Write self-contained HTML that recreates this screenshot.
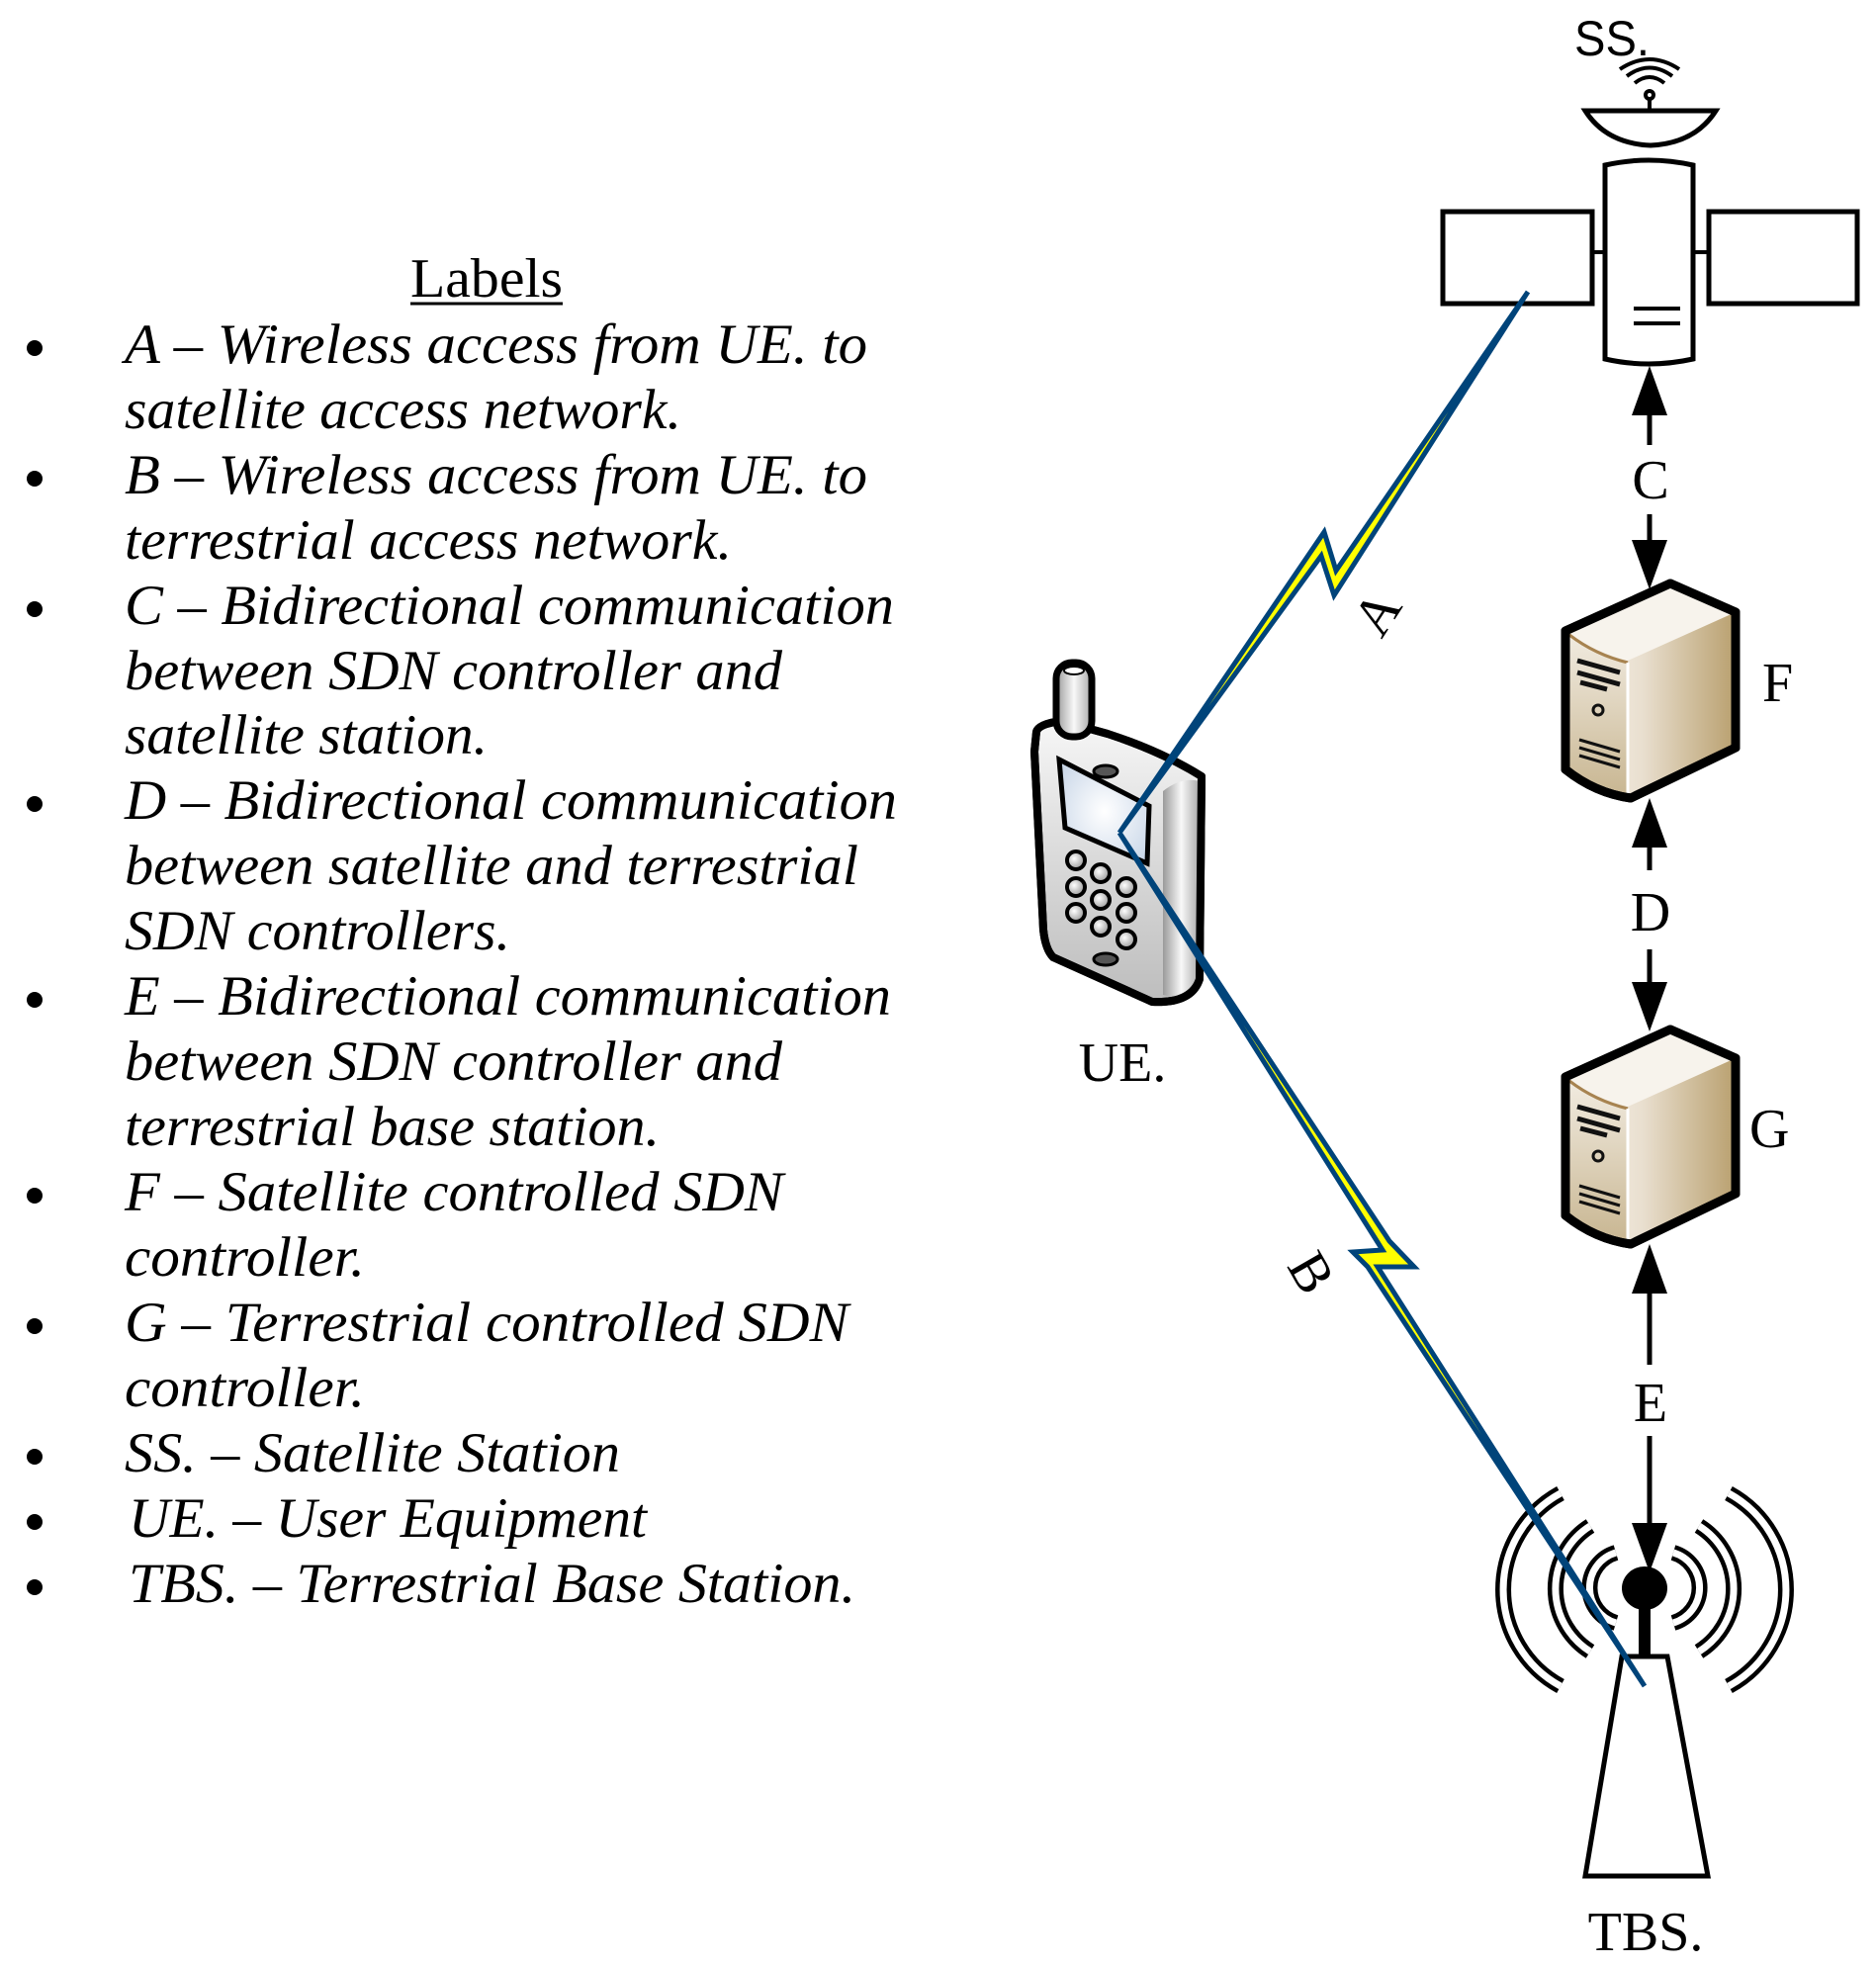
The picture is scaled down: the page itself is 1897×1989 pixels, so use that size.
<!DOCTYPE html>
<html><head><meta charset="utf-8"><style>
html,body{margin:0;padding:0;background:#fff;}
svg{display:block;}
.t{font-family:"Liberation Serif",serif;font-style:italic;font-size:57px;fill:#000;}
.s{font-family:"Liberation Serif",serif;font-size:56px;fill:#000;}
</style></head><body>
<svg width="1897" height="1989" viewBox="0 0 1897 1989" xmlns="http://www.w3.org/2000/svg">
<defs>
<linearGradient id="side" x1="0" y1="0" x2="1" y2="0">
<stop offset="0" stop-color="#fbf8f3"/><stop offset="0.45" stop-color="#e9dfcf"/><stop offset="1" stop-color="#b9a06f"/></linearGradient>
<linearGradient id="front" x1="0" y1="0" x2="0" y2="1">
<stop offset="0" stop-color="#f1ebe0"/><stop offset="1" stop-color="#c9b793"/></linearGradient>
<linearGradient id="ph" x1="0" y1="0" x2="0" y2="1">
<stop offset="0" stop-color="#f6f6f6"/><stop offset="1" stop-color="#bdbdbd"/></linearGradient>
<linearGradient id="phs" x1="0" y1="0" x2="1" y2="0">
<stop offset="0" stop-color="#9a9a9a"/><stop offset="0.5" stop-color="#f8f8f8"/><stop offset="1" stop-color="#a8a8a8"/></linearGradient>
<radialGradient id="scr" cx="0.5" cy="0.5" r="0.7"><stop offset="0" stop-color="#ffffff"/><stop offset="1" stop-color="#c4d3e6"/></radialGradient>
<radialGradient id="key" cx="0.4" cy="0.4" r="0.7"><stop offset="0" stop-color="#ffffff"/><stop offset="1" stop-color="#8c8c8c"/></radialGradient>
<g id="server">
<path d="M0,48 L106,0 L172,29 L172,166 L66,217 Q30,212 0,188 Z" fill="url(#side)" stroke="#000" stroke-width="9" stroke-linejoin="round"/>
<path d="M0,48 Q30,70 63,78 L172,29 L106,0 Z" fill="#f7f3ec"/>
<path d="M4,52 Q30,72 63,80 L63,212 Q30,206 4,186 Z" fill="url(#front)"/>
<path d="M4,52 Q30,72 63,80" fill="none" stroke="#a78350" stroke-width="3"/>
<line x1="63" y1="80" x2="63" y2="212" stroke="#fff" stroke-width="3"/>
<path d="M0,48 L106,0 L172,29 L172,166 L66,217 Q30,212 0,188 Z" fill="none" stroke="#000" stroke-width="9" stroke-linejoin="round"/>
<path d="M12,78 L55,90 M12,90 L55,102 M15,100 L42,107" stroke="#111" stroke-width="5" fill="none"/>
<circle cx="33" cy="128" r="5" fill="none" stroke="#111" stroke-width="3"/>
<path d="M14,158 L55,170 M14,166 L55,178 M14,174 L55,186" stroke="#111" stroke-width="3" fill="none"/>
</g>
</defs>

<!-- Left text -->
<text x="415" y="300" font-family="Liberation Serif, serif" font-size="56" textLength="154" lengthAdjust="spacingAndGlyphs">Labels</text>
<line x1="415" y1="307" x2="569" y2="307" stroke="#000" stroke-width="3"/>
<g fill="#000">
<circle cx="35" cy="352" r="8"/><circle cx="35" cy="484" r="8"/><circle cx="35" cy="616" r="8"/>
<circle cx="35" cy="813" r="8"/><circle cx="35" cy="1011" r="8"/><circle cx="35" cy="1209" r="8"/>
<circle cx="35" cy="1341" r="8"/><circle cx="35" cy="1473" r="8"/><circle cx="35" cy="1539" r="8"/><circle cx="35" cy="1605" r="8"/>
</g>
<g class="t">
<text x="126" y="367" textLength="751" lengthAdjust="spacingAndGlyphs">A – Wireless access from UE. to</text>
<text x="126" y="433" textLength="563" lengthAdjust="spacingAndGlyphs">satellite access network.</text>
<text x="126" y="499" textLength="751" lengthAdjust="spacingAndGlyphs">B – Wireless access from UE. to</text>
<text x="126" y="565" textLength="614" lengthAdjust="spacingAndGlyphs">terrestrial access network.</text>
<text x="126" y="631" textLength="778" lengthAdjust="spacingAndGlyphs">C – Bidirectional communication</text>
<text x="126" y="697" textLength="665" lengthAdjust="spacingAndGlyphs">between SDN controller and</text>
<text x="126" y="762" textLength="367" lengthAdjust="spacingAndGlyphs">satellite station.</text>
<text x="126" y="828" textLength="781" lengthAdjust="spacingAndGlyphs">D – Bidirectional communication</text>
<text x="126" y="894" textLength="742" lengthAdjust="spacingAndGlyphs">between satellite and terrestrial</text>
<text x="126" y="960" textLength="390" lengthAdjust="spacingAndGlyphs">SDN controllers.</text>
<text x="126" y="1026" textLength="775" lengthAdjust="spacingAndGlyphs">E – Bidirectional communication</text>
<text x="126" y="1092" textLength="665" lengthAdjust="spacingAndGlyphs">between SDN controller and</text>
<text x="126" y="1158" textLength="541" lengthAdjust="spacingAndGlyphs">terrestrial base station.</text>
<text x="126" y="1224" textLength="666" lengthAdjust="spacingAndGlyphs">F – Satellite controlled SDN</text>
<text x="126" y="1290" textLength="243" lengthAdjust="spacingAndGlyphs">controller.</text>
<text x="126" y="1356" textLength="732" lengthAdjust="spacingAndGlyphs">G – Terrestrial controlled SDN</text>
<text x="126" y="1422" textLength="243" lengthAdjust="spacingAndGlyphs">controller.</text>
<text x="126" y="1488" textLength="501" lengthAdjust="spacingAndGlyphs">SS. – Satellite Station</text>
<text x="130" y="1554" textLength="524" lengthAdjust="spacingAndGlyphs">UE. – User Equipment</text>
<text x="130" y="1620" textLength="735" lengthAdjust="spacingAndGlyphs">TBS. – Terrestrial Base Station.</text>
</g>

<g transform="translate(-6,0)">
<!-- Satellite -->
<text x="1598" y="56" font-family="Liberation Sans, sans-serif" font-size="50" textLength="76" lengthAdjust="spacingAndGlyphs">SS.</text>
<g fill="none" stroke="#000" stroke-width="4">
<path d="M1659,84 Q1674,72 1689,84"/><path d="M1651,77 Q1674,60 1697,77"/><path d="M1644,70 Q1674,50 1704,70"/>
<circle cx="1674" cy="96" r="4"/>
<line x1="1674" y1="100" x2="1674" y2="112"/>
<path d="M1609,112 L1741,112 Q1720,145 1675,147 Q1630,145 1609,112 Z" stroke-width="5"/>
<rect x="1465" y="214" width="151" height="93" stroke-width="5"/>
<rect x="1734" y="214" width="150" height="93" stroke-width="5"/>
<line x1="1616" y1="255" x2="1629" y2="255"/><line x1="1718" y1="255" x2="1734" y2="255"/>
<path d="M1629,167 Q1673,157 1718,167 L1718,363 Q1673,373 1629,363 Z" stroke-width="5"/>
<line x1="1658" y1="312" x2="1705" y2="312"/><line x1="1658" y1="327" x2="1705" y2="327"/>
</g>

<!-- Arrows -->
<g stroke="#000" stroke-width="5" fill="#000">
<line x1="1674" y1="410" x2="1674" y2="450"/><line x1="1674" y1="520" x2="1674" y2="560"/>
<path d="M1674,370 L1692,420 L1656,420 Z" stroke="none"/>
<path d="M1674,596 L1692,546 L1656,546 Z" stroke="none"/>
<line x1="1674" y1="845" x2="1674" y2="880"/><line x1="1674" y1="960" x2="1674" y2="1000"/>
<path d="M1674,807 L1692,857 L1656,857 Z" stroke="none"/>
<path d="M1674,1043 L1692,993 L1656,993 Z" stroke="none"/>
<line x1="1674" y1="1300" x2="1674" y2="1380"/><line x1="1674" y1="1452" x2="1674" y2="1545"/>
<path d="M1674,1258 L1692,1308 L1656,1308 Z" stroke="none"/>
<path d="M1674,1590 L1692,1540 L1656,1540 Z" stroke="none"/>
</g>
<g class="s" text-anchor="middle">
<text x="1675" y="504">C</text>
<text x="1675" y="941">D</text>
<text x="1675" y="1437">E</text>
<text x="1788" y="709" text-anchor="start">F</text>
<text x="1775" y="1160" text-anchor="start">G</text>
<text x="1670" y="1972">TBS.</text>
</g>

<!-- Servers -->
<use href="#server" x="1589" y="590"/>
<use href="#server" x="1589" y="1041"/>

<!-- Tower -->
<g fill="none">
<g stroke="#000" stroke-width="16" stroke-linecap="butt">
<path d="M1584,1510 A111,111 0 0 0 1584,1705"/><path d="M1754,1510 A111,111 0 0 1 1754,1705"/>
<path d="M1614,1543 A75,75 0 0 0 1614,1670"/><path d="M1724,1543 A75,75 0 0 1 1724,1670"/>
<path d="M1640,1570 A37,37 0 0 0 1640,1641"/><path d="M1698,1570 A37,37 0 0 1 1698,1641"/>
</g>
<g stroke="#fff" stroke-width="7">
<path d="M1584,1510 A111,111 0 0 0 1584,1705"/><path d="M1754,1510 A111,111 0 0 1 1754,1705"/>
<path d="M1614,1543 A75,75 0 0 0 1614,1670"/><path d="M1724,1543 A75,75 0 0 1 1724,1670"/>
<path d="M1640,1570 A37,37 0 0 0 1640,1641"/><path d="M1698,1570 A37,37 0 0 1 1698,1641"/>
</g>
</g>
<ellipse cx="1669" cy="1606" rx="23" ry="22" fill="#000"/>
<rect x="1663" y="1610" width="12" height="66" fill="#000"/>
<path d="M1646,1675 L1692,1675 L1733,1897 L1609,1897 Z" fill="#fff" stroke="#000" stroke-width="5"/>
</g>

<text x="1135" y="1093" class="s" text-anchor="middle">UE.</text>

<!-- Phone -->
<path d="M1048,740 Q1050,732 1073,729 L1120,742 Q1175,760 1215,785 L1213,990 Q1205,1015 1165,1013 L1065,968 Q1057,960 1055,940 L1046,760 Z" fill="url(#ph)" stroke="#000" stroke-width="8" stroke-linejoin="round"/>
<path d="M1176,800 Q1195,785 1213,790 L1212,995 Q1195,1012 1176,1006 Z" fill="url(#phs)"/>
<path d="M1048,740 Q1050,732 1073,729 L1120,742 Q1175,760 1215,785 L1213,990 Q1205,1015 1165,1013 L1065,968 Q1057,960 1055,940 L1046,760 Z" fill="none" stroke="#000" stroke-width="8" stroke-linejoin="round"/>
<rect x="1068" y="670" width="36" height="75" rx="16" fill="url(#phs)" stroke="#000" stroke-width="7"/>
<ellipse cx="1086" cy="678" rx="10" ry="4" fill="#fff" stroke="#000" stroke-width="2"/>
<path d="M1071,768 L1162,815 L1160,873 L1077,837 Z" fill="url(#scr)" stroke="#000" stroke-width="5"/>
<ellipse cx="1118" cy="780" rx="12" ry="6" fill="#555" stroke="#000" stroke-width="3"/>
<ellipse cx="1118" cy="970" rx="12" ry="6" fill="#555" stroke="#000" stroke-width="3"/>
<g fill="url(#key)" stroke="#000" stroke-width="4">
<circle cx="1088" cy="870" r="9"/><circle cx="1113" cy="883" r="9"/><circle cx="1139" cy="897" r="9"/>
<circle cx="1088" cy="897" r="9"/><circle cx="1113" cy="910" r="9"/><circle cx="1139" cy="923" r="9"/>
<circle cx="1088" cy="923" r="9"/><circle cx="1113" cy="937" r="9"/><circle cx="1139" cy="950" r="9"/>
</g>

<!-- Lightning A -->
<path d="M1545,295 L1349,602 L1336,562 L1132,842 L1339,538 L1351,577 Z" fill="#ffff00" stroke="#00447a" stroke-width="5" stroke-linejoin="miter"/>
<!-- Lightning B -->
<path d="M1132,842 L1405,1255 L1430,1281 L1393,1281 L1663,1705 L1383,1281 L1368,1266 L1398,1264 Z" fill="#ffff00" stroke="#00447a" stroke-width="5" stroke-linejoin="miter"/>

<text x="0" y="0" class="s" font-size="50" text-anchor="middle" transform="translate(1408,630) rotate(-57)">A</text>
<text x="0" y="0" class="s" font-size="50" text-anchor="middle" transform="translate(1310,1296) rotate(60)">B</text>
</svg>
</body></html>
